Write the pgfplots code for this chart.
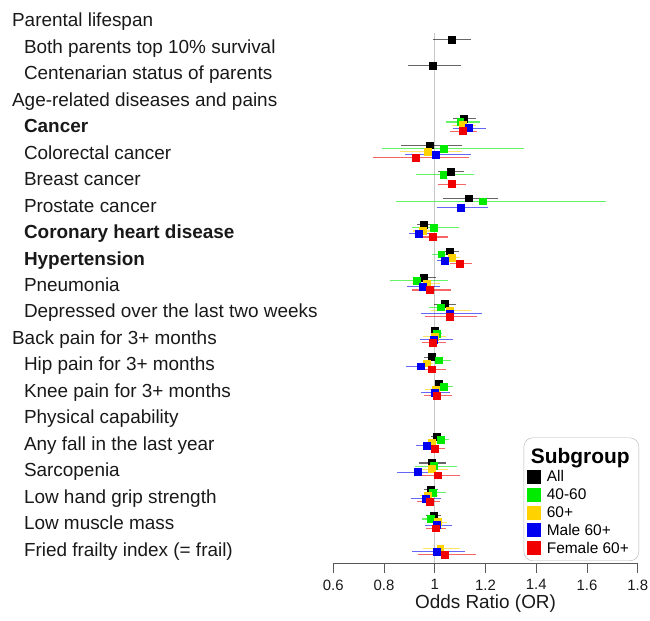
\documentclass[border=0pt]{standalone}
\usepackage{fontspec}
\setmainfont{Liberation Sans}
\usepackage{pgfplots}
\usepackage{pgfplotstable}
\pgfplotsset{compat=1.18}

\definecolor{cAll}{RGB}{0,0,0}
\definecolor{cG}{RGB}{0,235,0}
\definecolor{cY}{RGB}{255,210,0}
\definecolor{cB}{RGB}{0,0,240}
\definecolor{cR}{RGB}{240,0,0}

% r = row, or = odds ratio, lo/hi = 95% CI
\pgfplotstableread{
r or lo hi
2 1.066 0.993 1.142
3 0.993 0.895 1.105
5 1.114 1.070 1.164
6 0.979 0.866 1.109
7 1.062 1.013 1.114
8 1.135 1.032 1.251
9 0.958 0.930 0.988
10 1.060 1.033 1.096
11 0.958 0.928 1.003
12 1.038 0.996 1.084
13 1.000 0.984 1.017
14 0.988 0.957 1.013
15 1.017 1.000 1.039
17 1.007 0.987 1.030
18 0.989 0.938 1.046
19 0.984 0.957 1.011
20 0.996 0.967 1.024
}\tAll
\pgfplotstableread{
r or lo hi
5 1.101 1.043 1.180
6 1.035 0.792 1.352
7 1.034 0.925 1.156
8 1.190 0.849 1.674
9 0.997 0.911 1.096
10 1.026 0.988 1.064
11 0.928 0.823 1.052
12 1.025 0.978 1.072
13 1.007 0.987 1.030
14 1.016 0.987 1.063
15 1.035 1.017 1.072
17 1.024 1.000 1.056
18 0.997 0.924 1.086
19 0.993 0.961 1.046
20 0.984 0.948 1.026
}\tG
\pgfplotstableread{
r or lo hi
5 1.112 1.066 1.162
6 0.974 0.862 1.108
9 0.952 0.913 0.987
10 1.067 1.035 1.099
11 0.967 0.912 1.020
12 1.060 0.987 1.141
13 1.000 0.954 1.043
14 0.967 0.948 0.993
15 1.003 0.961 1.033
17 0.987 0.961 1.020
18 0.987 0.941 1.052
19 0.974 0.941 1.013
20 1.011 0.974 1.048
21 1.022 0.952 1.099
}\tY
\pgfplotstableread{
r or lo hi
5 1.134 1.070 1.201
6 1.003 0.882 1.141
8 1.102 1.009 1.209
9 0.936 0.898 0.980
10 1.041 1.007 1.072
11 0.952 0.891 1.022
12 1.059 0.945 1.188
13 0.997 0.941 1.070
14 0.944 0.886 0.987
15 1.001 0.945 1.059
17 0.970 0.925 1.000
18 0.932 0.853 1.000
19 0.965 0.905 1.026
20 1.007 0.961 1.066
21 1.007 0.912 1.118
}\tB
\pgfplotstableread{
r or lo hi
5 1.112 1.059 1.167
6 0.924 0.757 1.133
7 1.067 1.013 1.125
9 0.993 0.954 1.051
10 1.099 1.059 1.145
11 0.981 0.912 1.062
12 1.059 0.963 1.167
13 0.993 0.948 1.046
14 0.987 0.954 1.046
15 1.007 0.958 1.066
17 1.000 0.967 1.039
18 1.012 0.948 1.101
19 0.980 0.928 1.020
20 1.003 0.967 1.043
21 1.039 0.934 1.164
}\tR

\newcommand{\lab}[3]{\node[anchor=base west, inner sep=0pt, font=\fontsize{19}{22}\selectfont, text=black!90] at (axis cs:#1,{-#2-0.257}) {#3};}
\newcommand{\ser}[3]{%
\addplot[forget plot, only marks, mark=none,
  error bars/.cd, x dir=both, x explicit, error mark=none,
  error bar style={line width=1.1bp, color=#2, opacity=0.6}]
  table[x=or, y expr={-\thisrow{r}+#3}, x error plus expr={\thisrow{hi}-\thisrow{or}}, x error minus expr={\thisrow{or}-\thisrow{lo}}] {#1};
\addplot[only marks, mark=square*, mark size=3.4bp, color=#2, fill=#2, mark options={solid, line width=0.6bp}]
  table[x=or, y expr={-\thisrow{r}+#3}] {#1};}

\begin{document}
\begin{tikzpicture}[x=1bp,y=1bp]
\useasboundingbox (0,0) rectangle (650,621);
\begin{axis}[
  at={(333.3bp,58bp)}, anchor=south west,
  scale only axis, width=304.4bp, height=530bp,
  xmin=0.6, xmax=1.8, ymin=-21.514, ymax=-1.491,
  clip=false,
  axis y line=none, axis x line*=bottom,
  axis line style={black!65, line width=0.8bp},
  xtick={0.6,0.8,1,1.2,1.4,1.6,1.8},
  xticklabels={0.6,0.8,1,1.2,1.4,1.6,1.8},
  tick align=outside, major tick length=10bp,
  tick style={black!65, line width=0.8bp},
  xticklabel style={font=\fontsize{15}{17}\selectfont, text=black!90, inner sep=0pt, yshift=-6.5bp},
  /pgf/number format/assume math mode=true,
  xlabel={Odds Ratio (OR)},
  xlabel style={at={(axis description cs:0.5,0)}, anchor=base, inner sep=0pt, yshift=-45bp, font=\fontsize{19}{22}\selectfont, text=black!90},
  legend cell align=left,
  legend image code/.code={\fill[#1, sharp corners, draw=none] (0bp,-7bp) rectangle (14bp,7bp);},
  legend style={at={(axis description cs:1.0043,0.0038)}, anchor=south east,
    draw=black!30, rounded corners=9bp, fill=white,
    font=\fontsize{15.5}{17}\selectfont, inner xsep=3bp, inner ysep=4bp,
    row sep=1.4bp, column sep=4bp},
]
\addplot[black!22, line width=0.8bp, forget plot] coordinates {(1,-21.514) (1,-1.491)};
\addlegendimage{empty legend}
\addlegendentry{\hspace*{-16bp}\fontsize{21}{24}\selectfont\bfseries\rule{0pt}{20bp}Subgroup}
\ser{\tAll}{cAll}{0.264}
\addlegendentry{All}
\ser{\tG}{cG}{0.147}
\addlegendentry{40-60}
\ser{\tY}{cY}{0.030}
\addlegendentry{60+}
\ser{\tB}{cB}{-0.083}
\addlegendentry{Male 60+}
\ser{\tR}{cR}{-0.200}
\addlegendentry{Female 60+\hspace*{5bp}}

\lab{-0.667}{1}{Parental lifespan}
\lab{-0.620}{2}{Both parents top 10\% survival}
\lab{-0.620}{3}{Centenarian status of parents}
\lab{-0.667}{4}{Age-related diseases and pains}
\lab{-0.620}{5}{\bfseries Cancer}
\lab{-0.620}{6}{Colorectal cancer}
\lab{-0.620}{7}{Breast cancer}
\lab{-0.620}{8}{Prostate cancer}
\lab{-0.620}{9}{\bfseries Coronary heart disease}
\lab{-0.620}{10}{\bfseries Hypertension}
\lab{-0.620}{11}{Pneumonia}
\lab{-0.620}{12}{Depressed over the last two weeks}
\lab{-0.667}{13}{Back pain for 3+ months}
\lab{-0.620}{14}{Hip pain for 3+ months}
\lab{-0.620}{15}{Knee pain for 3+ months}
\lab{-0.620}{16}{Physical capability}
\lab{-0.620}{17}{Any fall in the last year}
\lab{-0.620}{18}{Sarcopenia}
\lab{-0.620}{19}{Low hand grip strength}
\lab{-0.620}{20}{Low muscle mass}
\lab{-0.620}{21}{Fried frailty index (= frail)}
\end{axis}
\end{tikzpicture}
\end{document}
